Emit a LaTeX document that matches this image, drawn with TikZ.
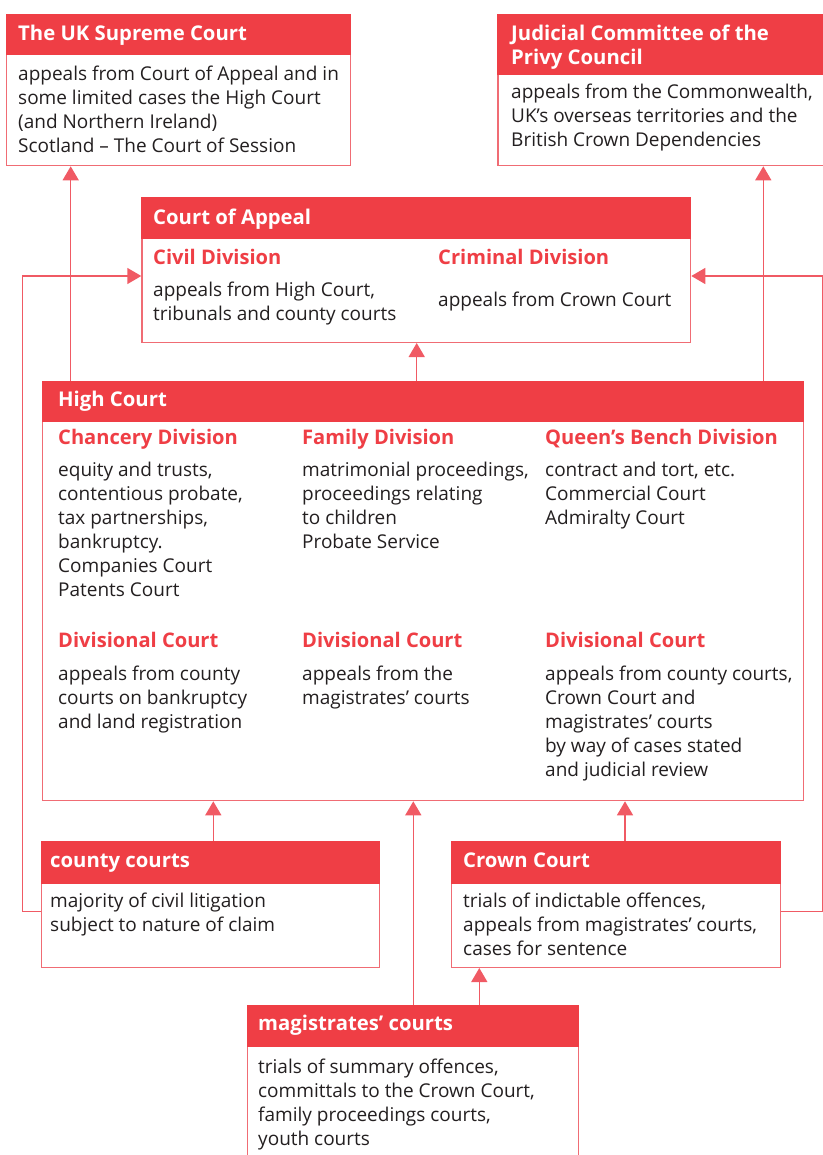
\documentclass[tikz,border=0pt]{standalone}
\usepackage{fontspec}
\setmainfont{Open Sans}
\usetikzlibrary{arrows.meta}
\definecolor{hdr}{RGB}{239,62,69}
\definecolor{brd}{RGB}{240,108,116}
\definecolor{lnc}{RGB}{240,90,100}
\definecolor{txt}{RGB}{35,31,32}
\newcommand\bodyfnt{\fontsize{19}{24}\selectfont\color{txt}}
\newcommand\hdrfnt{\fontsize{20.3}{24}\selectfont\bfseries\color{white}}
\newcommand\divfnt{\fontsize{20.1}{24}\selectfont\bfseries\color{hdr}}
\tikzset{
  frame/.style={draw=brd, line width=1.3pt, fill=white, anchor=north west, inner sep=0pt, rectangle},
  hbar/.style={fill=hdr, draw=hdr, line width=1.3pt, anchor=north west, inner sep=0pt, rectangle},
  body/.style={anchor=north west, inner sep=0pt, align=left, font=\bodyfnt, yshift=16.8pt},
  htext/.style={anchor=north west, inner sep=0pt, align=left, font=\hdrfnt, yshift=16.8pt},
  dtext/.style={anchor=north west, inner sep=0pt, align=left, font=\divfnt, yshift=16.8pt},
  arr/.style={draw=lnc, line width=1.4pt, -{Triangle[width=16pt,length=14pt]}},
}
\begin{document}
\begin{tikzpicture}[x=1pt,y=-1pt]
\useasboundingbox (0,0) rectangle (822,1155);
% Supreme Court
\node[frame, minimum width=344pt, minimum height=151pt] (sc) at (5.7,14) {};
\node[hbar, minimum width=344pt, minimum height=39.3pt] (sch) at (5.7,14) {};
\node[htext] (sct) at (18,40) {\strut The UK Supreme Court};
\node[body] (scb) at (18,80) {\strut appeals from Court of Appeal and in\\some limited cases the High Court\\(and Northern Ireland)\\Scotland -- The Court of Session};
% JCPC
\node[frame, minimum width=330pt, minimum height=151pt] (jc) at (497.3,14) {};
\node[hbar, minimum width=330pt, minimum height=59.3pt] (jch) at (497.3,14) {};
\node[htext] (jct) at (511,40) {\strut Judicial Committee of the\\Privy Council};
\node[body] (jcb) at (511,98) {\strut appeals from the Commonwealth,\\UK’s overseas territories and the\\British Crown Dependencies};
% Court of Appeal
\node[frame, minimum width=548.7pt, minimum height=144.4pt] (coa) at (141.3,197.3) {};
\node[hbar, minimum width=548.7pt, minimum height=40pt] (coah) at (141.3,197.3) {};
\node[htext] (coat) at (153,224) {\strut Court of Appeal};
\node[dtext] (civ) at (153,264) {\strut Civil Division};
\node[body] (civb) at (153,296) {\strut appeals from High Court,\\tribunals and county courts};
\node[dtext] (crim) at (438,264) {\strut Criminal Division};
\node[body] (crimb) at (438,306) {\strut appeals from Crown Court};
% High Court
\node[frame, minimum width=761.3pt, minimum height=419.3pt] (hc) at (41.7,380.7) {};
\node[hbar, minimum width=761.3pt, minimum height=40pt] (hch) at (41.7,380.7) {};
\node[htext] (hct) at (58,406) {\strut High Court};
\node[dtext] (chd) at (58,444) {\strut Chancery Division};
\node[body] (chb) at (58,476) {\strut equity and trusts,\\contentious probate,\\tax partnerships,\\bankruptcy.\\Companies Court\\Patents Court};
\node[dtext] (fad) at (302,444) {\strut Family Division};
\node[body] (fab) at (302,476) {\strut matrimonial proceedings,\\proceedings relating\\to children\\Probate Service};
\node[dtext] (qbd) at (545,444) {\strut Queen’s Bench Division};
\node[body] (qbb) at (545,476) {\strut contract and tort, etc.\\Commercial Court\\Admiralty Court};
\node[dtext] (dc1) at (58,647) {\strut Divisional Court};
\node[body] (dc1b) at (58,680) {\strut appeals from county\\courts on bankruptcy\\and land registration};
\node[dtext] (dc2) at (302,647) {\strut Divisional Court};
\node[body] (dc2b) at (302,680) {\strut appeals from the\\magistrates’ courts};
\node[dtext] (dc3) at (545,647) {\strut Divisional Court};
\node[body] (dc3b) at (545,680) {\strut appeals from county courts,\\Crown Court and\\magistrates’ courts\\by way of cases stated\\and judicial review};
% county courts
\node[frame, minimum width=338pt, minimum height=126pt] (cc) at (41,840.7) {};
\node[hbar, minimum width=338pt, minimum height=42pt] (cch) at (41,840.7) {};
\node[htext] (cct) at (50,867) {\strut county courts};
\node[body] (ccb) at (50,907) {\strut majority of civil litigation\\subject to nature of claim};
% Crown Court
\node[frame, minimum width=329.3pt, minimum height=126pt] (cr) at (450.7,840.7) {};
\node[hbar, minimum width=329.3pt, minimum height=42pt] (crh) at (450.7,840.7) {};
\node[htext] (crt) at (463,867) {\strut Crown Court};
\node[body] (crb) at (463,907) {\strut trials of indictable offences,\\appeals from magistrates’ courts,\\cases for sentence};
% magistrates' courts
\node[frame, minimum width=331pt, minimum height=170pt] (mg) at (247,1005) {};
\node[hbar, minimum width=331pt, minimum height=41pt] (mgh) at (247,1005) {};
\node[htext] (mgt) at (258,1030) {\strut magistrates’ courts};
\node[body] (mgb) at (258,1073) {\strut trials of summary offences,\\committals to the Crown Court,\\family proceedings courts,\\youth courts};
% connector points
\coordinate (scin) at ([xshift=65pt]sc.south west);
\coordinate (jcin) at ([xshift=266pt]jc.south west);
\coordinate (coain) at ([xshift=275.4pt]coa.south west);
\coordinate (ccup) at ([xshift=172.3pt]cc.north west);
\coordinate (crup) at ([xshift=174.3pt]cr.north west);
\coordinate (mgup) at ([xshift=166.3pt]mg.north west);
\coordinate (mgcr) at ([xshift=232.3pt]mg.north west);
\coordinate (ccout) at ([yshift=-70.5pt]cc.north west);
\coordinate (crout) at ([yshift=-71pt]cr.north east);
\coordinate (coaL) at ([yshift=-78.7pt]coa.north west);
\coordinate (coaR) at ([yshift=-78.7pt]coa.north east);
% connectors
\draw[arr] (scin |- hc.north) -- (scin);
\draw[arr] (jcin |- hc.north) -- (jcin);
\draw[arr] (coain |- hc.north) -- (coain);
\draw[arr] (ccup) -- (ccup |- hc.south);
\draw[arr] (crup) -- (crup |- hc.south);
\draw[arr] (mgup) -- (mgup |- hc.south);
\draw[arr] (mgcr) -- (mgcr |- cr.south);
\draw[arr] (ccout) -- ++(-18.3,0) |- (coaL);
\draw[arr] (crout) -- ++(41,0) |- (coaR);
\end{tikzpicture}
\end{document}
